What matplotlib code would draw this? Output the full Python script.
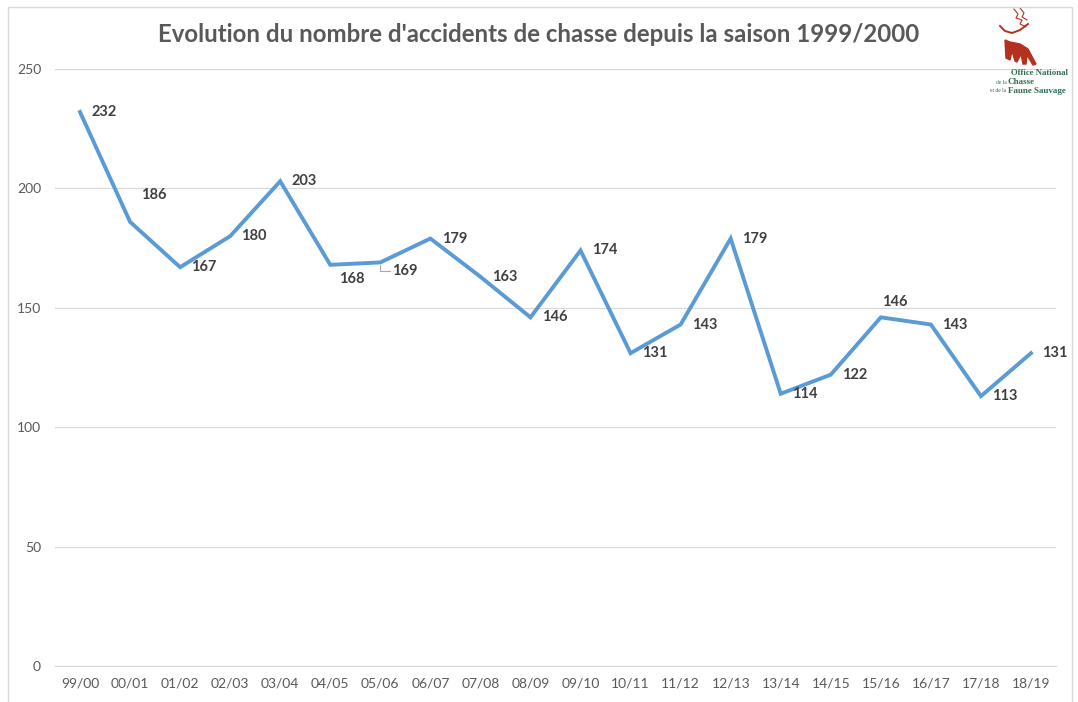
import matplotlib
matplotlib.use("Agg")
import matplotlib.pyplot as plt
from matplotlib.patches import Rectangle, Polygon

saisons = ["99/00", "00/01", "01/02", "02/03", "03/04", "04/05", "05/06", "06/07",
           "07/08", "08/09", "09/10", "10/11", "11/12", "12/13", "13/14", "14/15",
           "15/16", "16/17", "17/18", "18/19"]
accidents = [232, 186, 167, 180, 203, 168, 169, 179, 163, 146,
             174, 131, 143, 179, 114, 122, 146, 143, 113, 131]

plt.rcParams['font.family'] = ['Lato', 'DejaVu Sans']

W, H = 1078, 702
fig = plt.figure(figsize=(W / 100, H / 100), dpi=100)
ax = fig.add_axes([0.051, 0.0513, 0.9286, 0.8504])

x = list(range(len(saisons)))
ax.plot(x, accidents, color="#5b9bd5", linewidth=2.8, solid_joinstyle="miter", zorder=3)

# position des etiquettes (en pixels) par rapport au point
offsets = {1: (24, 27), 5: (22, -14), 6: (24, -9), 16: (14, 15)}
for i, v in enumerate(accidents):
    dx, dy = offsets.get(i, (24, 0))
    ax.annotate(str(v), (i, v), xytext=(dx, dy), textcoords="offset pixels",
                ha="center", va="center", fontsize=10.5, fontweight="bold",
                color="#404040", zorder=4)
# petit trait de rappel pour 05/06
ax.annotate("", (6, 169), xytext=(12, -9), textcoords="offset pixels",
            arrowprops=dict(arrowstyle="-", color="#a6a6a6", lw=0.8,
                            connectionstyle="angle,angleA=0,angleB=90"))

ax.set_xlim(-0.5, len(saisons) - 0.5)
ax.set_ylim(0, 250)
ax.set_yticks([0, 50, 100, 150, 200, 250])
ax.set_xticks(x)
ax.set_xticklabels(saisons)
ax.grid(axis="y", color="#d9d9d9", linewidth=0.9)
ax.set_axisbelow(True)
for s in ["top", "right", "left"]:
    ax.spines[s].set_visible(False)
ax.spines["bottom"].set_color("#d9d9d9")
ax.tick_params(axis="both", length=0, colors="#595959", labelsize=10)
ax.tick_params(axis="x", pad=8)
ax.tick_params(axis="y", pad=10)

fig.text(0.5, 1 - 35 / H, "Evolution du nombre d'accidents de chasse depuis la saison 1999/2000",
         ha="center", va="center", fontsize=17.3, fontweight="bold", color="#595959")

# cadre du graphique
fig.patches.append(Rectangle((8 / W, -0.01), 1064 / W, 1 - 7 / H + 0.01,
                             transform=fig.transFigure, fill=False,
                             edgecolor="#d9d9d9", linewidth=1))

# logo ONCFS (approximation), coordonnees en pixels
logo = fig.add_axes([985 / W, 1 - 100 / H, 90 / W, 95 / H])
logo.set_xlim(985, 1075)
logo.set_ylim(100, 5)
logo.axis("off")
red = "#b5311f"
logo.add_patch(Polygon([(1005, 40), (1010, 42), (1020, 44), (1028, 49), (1036, 64),
                        (1033, 65), (1027, 55), (1026, 64), (1023, 64), (1021, 54),
                        (1017, 62), (1015, 61), (1012, 51), (1010, 60), (1006, 58)],
                       closed=True, color=red))
logo.plot([1000, 1005, 1012, 1020, 1028], [26, 31, 33, 30, 24], color=red, lw=1.4)
logo.plot([1014, 1018, 1016, 1022, 1020, 1026], [9, 14, 18, 20, 24, 27], color=red, lw=0.8)
logo.plot([1020, 1024, 1022, 1027], [8, 13, 17, 20], color=red, lw=0.8)
green = "#2f6e52"
serif = ["Liberation Serif", "DejaVu Serif"]
logo.text(1068, 73, "Office National", ha="right", va="center",
          fontsize=6.3, color=green, family=serif, fontweight="bold")
logo.text(1008, 82, "de la ", ha="right", va="center", fontsize=4, color=green, family=serif)
logo.text(1008, 82, "Chasse", ha="left", va="center", fontsize=6.5, color=green,
          family=serif, fontweight="bold")
logo.text(1008, 91, "et de la ", ha="right", va="center", fontsize=4, color=green, family=serif)
logo.text(1008, 91, "Faune Sauvage", ha="left", va="center", fontsize=6.5, color=green,
          family=serif, fontweight="bold")

fig.savefig("out.png", dpi=100)
